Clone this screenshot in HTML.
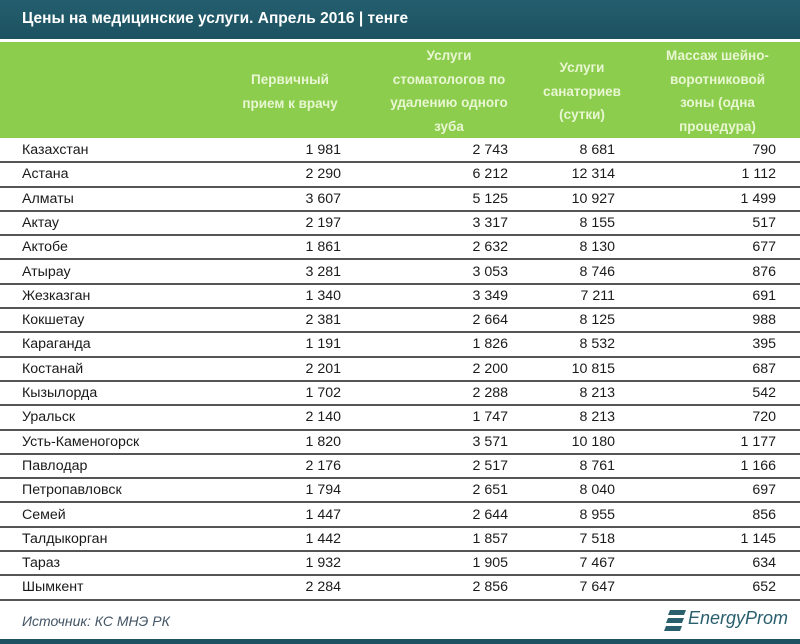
<!DOCTYPE html>
<html><head><meta charset="utf-8"><style>
*{margin:0;padding:0;box-sizing:border-box}
body{width:800px;height:644px;background:#fff;position:relative;overflow:hidden;font-family:"Liberation Sans","DejaVu Sans",sans-serif;}
.top{position:absolute;left:0;top:0;width:800px;height:39px;background:linear-gradient(#245e6e,#1c5262);}
.title{position:absolute;left:22px;top:10px;color:#fff;font-weight:bold;font-size:15.5px;}
.green{position:absolute;left:0;top:42px;width:800px;height:96px;background:#8ccd4e;}
.h{position:absolute;color:#eef9da;font-weight:bold;font-size:13.5px;line-height:23.5px;text-align:center;opacity:.95}
.row{position:absolute;left:0;width:800px;height:24.3px;border-bottom:2px solid #555;font-size:14.2px;color:#1a1a1a;}
.row span{position:absolute;top:3px}
.n{left:22px}
.c1{right:459px}.c2{right:292px}.c3{right:185px}.c4{right:24px}
.src{position:absolute;left:22px;top:613px;font-style:italic;color:#456;font-size:14px}
.logo{position:absolute;left:688px;top:608px;font-style:italic;color:#2a5f6e;font-size:18px;}
.bot{position:absolute;left:0;top:639px;width:800px;height:5px;background:#1c5262}
</style></head><body>
<div class="top"><div class="title">Цены на медицинские услуги. Апрель 2016 | тенге</div></div>
<div class="green">
<div class="h" style="left:230px;width:120px;top:26px">Первичный<br>прием к врачу</div>
<div class="h" style="left:378px;width:142px;top:2px">Услуги<br>стоматологов по<br>удалению одного<br>зуба</div>
<div class="h" style="left:530px;width:104px;top:14px">Услуги<br>санаториев<br>(сутки)</div>
<div class="h" style="left:640px;width:155px;top:2px">Массаж шейно-<br>воротниковой<br>зоны (одна<br>процедура)</div>
</div>
<div class="row" style="top:139.0px"><span class="n">Казахстан</span><span class="c1">1 981</span><span class="c2">2 743</span><span class="c3">8 681</span><span class="c4">790</span></div>
<div class="row" style="top:163.3px"><span class="n">Астана</span><span class="c1">2 290</span><span class="c2">6 212</span><span class="c3">12 314</span><span class="c4">1 112</span></div>
<div class="row" style="top:187.6px"><span class="n">Алматы</span><span class="c1">3 607</span><span class="c2">5 125</span><span class="c3">10 927</span><span class="c4">1 499</span></div>
<div class="row" style="top:211.9px"><span class="n">Актау</span><span class="c1">2 197</span><span class="c2">3 317</span><span class="c3">8 155</span><span class="c4">517</span></div>
<div class="row" style="top:236.2px"><span class="n">Актобе</span><span class="c1">1 861</span><span class="c2">2 632</span><span class="c3">8 130</span><span class="c4">677</span></div>
<div class="row" style="top:260.5px"><span class="n">Атырау</span><span class="c1">3 281</span><span class="c2">3 053</span><span class="c3">8 746</span><span class="c4">876</span></div>
<div class="row" style="top:284.8px"><span class="n">Жезказган</span><span class="c1">1 340</span><span class="c2">3 349</span><span class="c3">7 211</span><span class="c4">691</span></div>
<div class="row" style="top:309.1px"><span class="n">Кокшетау</span><span class="c1">2 381</span><span class="c2">2 664</span><span class="c3">8 125</span><span class="c4">988</span></div>
<div class="row" style="top:333.4px"><span class="n">Караганда</span><span class="c1">1 191</span><span class="c2">1 826</span><span class="c3">8 532</span><span class="c4">395</span></div>
<div class="row" style="top:357.7px"><span class="n">Костанай</span><span class="c1">2 201</span><span class="c2">2 200</span><span class="c3">10 815</span><span class="c4">687</span></div>
<div class="row" style="top:382.0px"><span class="n">Кызылорда</span><span class="c1">1 702</span><span class="c2">2 288</span><span class="c3">8 213</span><span class="c4">542</span></div>
<div class="row" style="top:406.3px"><span class="n">Уральск</span><span class="c1">2 140</span><span class="c2">1 747</span><span class="c3">8 213</span><span class="c4">720</span></div>
<div class="row" style="top:430.6px"><span class="n">Усть-Каменогорск</span><span class="c1">1 820</span><span class="c2">3 571</span><span class="c3">10 180</span><span class="c4">1 177</span></div>
<div class="row" style="top:454.9px"><span class="n">Павлодар</span><span class="c1">2 176</span><span class="c2">2 517</span><span class="c3">8 761</span><span class="c4">1 166</span></div>
<div class="row" style="top:479.2px"><span class="n">Петропавловск</span><span class="c1">1 794</span><span class="c2">2 651</span><span class="c3">8 040</span><span class="c4">697</span></div>
<div class="row" style="top:503.5px"><span class="n">Семей</span><span class="c1">1 447</span><span class="c2">2 644</span><span class="c3">8 955</span><span class="c4">856</span></div>
<div class="row" style="top:527.8px"><span class="n">Талдыкорган</span><span class="c1">1 442</span><span class="c2">1 857</span><span class="c3">7 518</span><span class="c4">1 145</span></div>
<div class="row" style="top:552.1px"><span class="n">Тараз</span><span class="c1">1 932</span><span class="c2">1 905</span><span class="c3">7 467</span><span class="c4">634</span></div>
<div class="row" style="top:576.4px"><span class="n">Шымкент</span><span class="c1">2 284</span><span class="c2">2 856</span><span class="c3">7 647</span><span class="c4">652</span></div>
<div class="src">Источник: КС МНЭ РК</div>
<svg style="position:absolute;left:664px;top:609px" width="22" height="26"><polygon points="6,1 22,1 20,6 4,6" fill="#2a5f6e"/><polygon points="4,9 20,9 18,14 2,14" fill="#2a5f6e"/><polygon points="2,17 18,17 16,22 0,22" fill="#2a5f6e"/></svg>
<div class="logo">EnergyProm</div>
<div class="bot"></div>
</body></html>
